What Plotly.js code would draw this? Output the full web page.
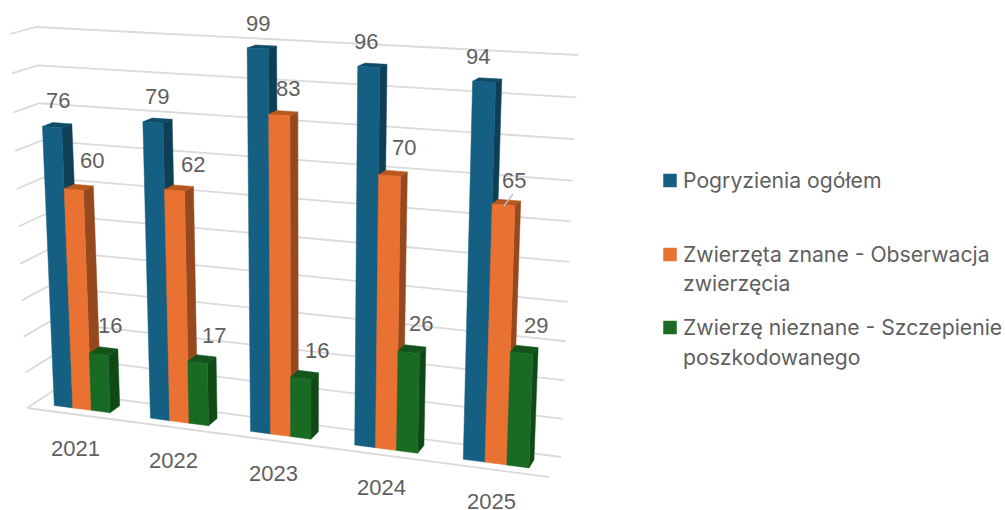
<!DOCTYPE html>
<html><head><meta charset="utf-8">
<script src="https://cdn.plot.ly/plotly-3.0.0.min.js"></script>
<style>html,body{margin:0;padding:0;background:#fff;overflow:hidden}#c{width:1005px;height:510px}</style>
</head><body><div id="c"></div>
<script>
const years = ['2021','2022','2023','2024','2025'];
const seriesNames = ['Pogryzienia ogółem','Zwierzęta znane - Obserwacja zwierzęcia','Zwierzę nieznane - Szczepienie poszkodowanego'];
const total = [76,79,99,96,94];
const known = [60,62,83,70,65];
const unknown = [16,17,16,26,29];
const seriesValues = [total, known, unknown];
const gridTicks = [0,10,20,30,40,50,60,70,80,90,100];

const frontColors = ['#156082','#E97132','#196B24'];
const sideColors = ['#0D3F56','#96481E','#0F4A16'];
const topColors = ['#0F4C68','#B8581F','#12541B'];

// Screen projection of the chart's 3D box
const box = {
  floor: {fl:[27,408], fr:[549,477], bl:[53,391], br:[561,457]},
  roof:  {fl:[10,34],  fr:[564,63],  bl:[36,27],  br:[578,55]}
};
const rX = 1.107, rY = 1.06, axisMax = 100;
const lerp = (a,b,t)=>[a[0]+(b[0]-a[0])*t, a[1]+(b[1]-a[1])*t];
function project(X, v, z){
  const t = X/(rX - X*(rX-1));
  const plane = p => lerp(lerp(p.fl,p.fr,t), lerp(p.bl,p.br,t), z);
  const n = v/axisMax;
  const f = n/(rY - n*(rY-1));
  return lerp(plane(box.floor), plane(box.roof), f);
}
const zFront = 0.30, zBack = 0.70;
const catW = 1/years.length, groupW = 0.117, barW = groupW/3;

function polyTrace(polys, color, name){
  const x=[],y=[];
  polys.forEach(p=>{p.forEach(q=>{x.push(q[0]);y.push(q[1]);}); x.push(p[0][0]); y.push(p[0][1]); x.push(null); y.push(null);});
  return {type:'scatter',mode:'lines',x,y,fill:'toself',fillcolor:color,line:{color:color,width:0.5},hoverinfo:'skip',showlegend:false,name:name};
}
const traces=[];
// gridlines
const gx=[],gy=[];
gridTicks.forEach(v=>{
  [project(0,v,0),project(0,v,1),project(1,v,1)].forEach(q=>{gx.push(q[0]);gy.push(q[1]);});
  gx.push(null);gy.push(null);
});
[project(0,0,0),project(1,0,0)].forEach(q=>{gx.push(q[0]);gy.push(q[1]);});
traces.push({type:'scatter',mode:'lines',x:gx,y:gy,line:{color:'#DADADA',width:1.8},hoverinfo:'skip',showlegend:false});

seriesValues.forEach((vals,s)=>{
  const fronts=[],sides=[],tops=[];
  vals.forEach((v,i)=>{
    const x0=(i+0.5)*catW-groupW/2+s*barW, x1=x0+barW;
    fronts.push([project(x0,0,zFront),project(x1,0,zFront),project(x1,v,zFront),project(x0,v,zFront)]);
    sides.push([project(x1,0,zFront),project(x1,0,zBack),project(x1,v,zBack),project(x1,v,zFront)]);
    tops.push([project(x0,v,zFront),project(x1,v,zFront),project(x1,v,zBack),project(x0,v,zBack)]);
  });
  traces.push(polyTrace(sides,sideColors[s],seriesNames[s]+' (bok)'));
  traces.push(polyTrace(tops,topColors[s],seriesNames[s]+' (góra)'));
  traces.push(polyTrace(fronts,frontColors[s],seriesNames[s]));
});

// leader line of the label 65
traces.push({type:'scatter',mode:'lines',x:[513,504],y:[194,206],line:{color:'#BFBFBF',width:1.5},hoverinfo:'skip',showlegend:false});

// legend swatches
const legendX=670, legendY=[180.5,254.5,327.5];
legendY.forEach((y,s)=>traces.push({type:'scatter',mode:'markers',x:[legendX],y:[y],
  marker:{symbol:'square',size:13.5,color:frontColors[s],line:{width:0}},hoverinfo:'skip',showlegend:false,name:seriesNames[s]}));

const labelPositions=[
 [[58,100],[157,96],[258,23],[366,41],[478,56]],
 [[92,160],[193,164],[288,88],[404,147],[514,180]],
 [[110,325],[214,335],[317,350],[421,323],[536,325]]
];
const yearPositions=[[75,448],[173,460],[273,473],[381,487],[491,501]];
const textColor='#5F5F5F';
const ann=[];
seriesValues.forEach((vals,s)=>vals.forEach((v,i)=>ann.push({x:labelPositions[s][i][0],y:labelPositions[s][i][1],xref:'x',yref:'y',text:String(v),showarrow:false,xanchor:'center',yanchor:'middle',font:{family:'Liberation Sans',size:22,color:textColor}})));
years.forEach((t,i)=>ann.push({x:yearPositions[i][0],y:yearPositions[i][1],xref:'x',yref:'y',text:t,showarrow:false,xanchor:'center',yanchor:'middle',font:{family:'Liberation Sans',size:22,color:textColor}}));
const legendLines=[['Pogryzienia ogółem',180],['Zwierzęta znane - Obserwacja',254],['zwierzęcia',283],['Zwierzę nieznane - Szczepienie',327],['poszkodowanego',357]];
legendLines.forEach(l=>ann.push({x:683,y:l[1],xref:'x',yref:'y',text:l[0],showarrow:false,xanchor:'left',yanchor:'middle',xshift:-2,font:{family:'Inter',size:21.2,color:textColor}}));

Plotly.newPlot('c',traces,{
  width:1005,height:510,margin:{l:0,r:0,t:0,b:0},paper_bgcolor:'#fff',plot_bgcolor:'#fff',showlegend:false,
  xaxis:{range:[0,1005],visible:false,fixedrange:true},
  yaxis:{range:[510,0],visible:false,fixedrange:true},
  annotations:ann
},{displayModeBar:false,staticPlot:true});
</script></body></html>
